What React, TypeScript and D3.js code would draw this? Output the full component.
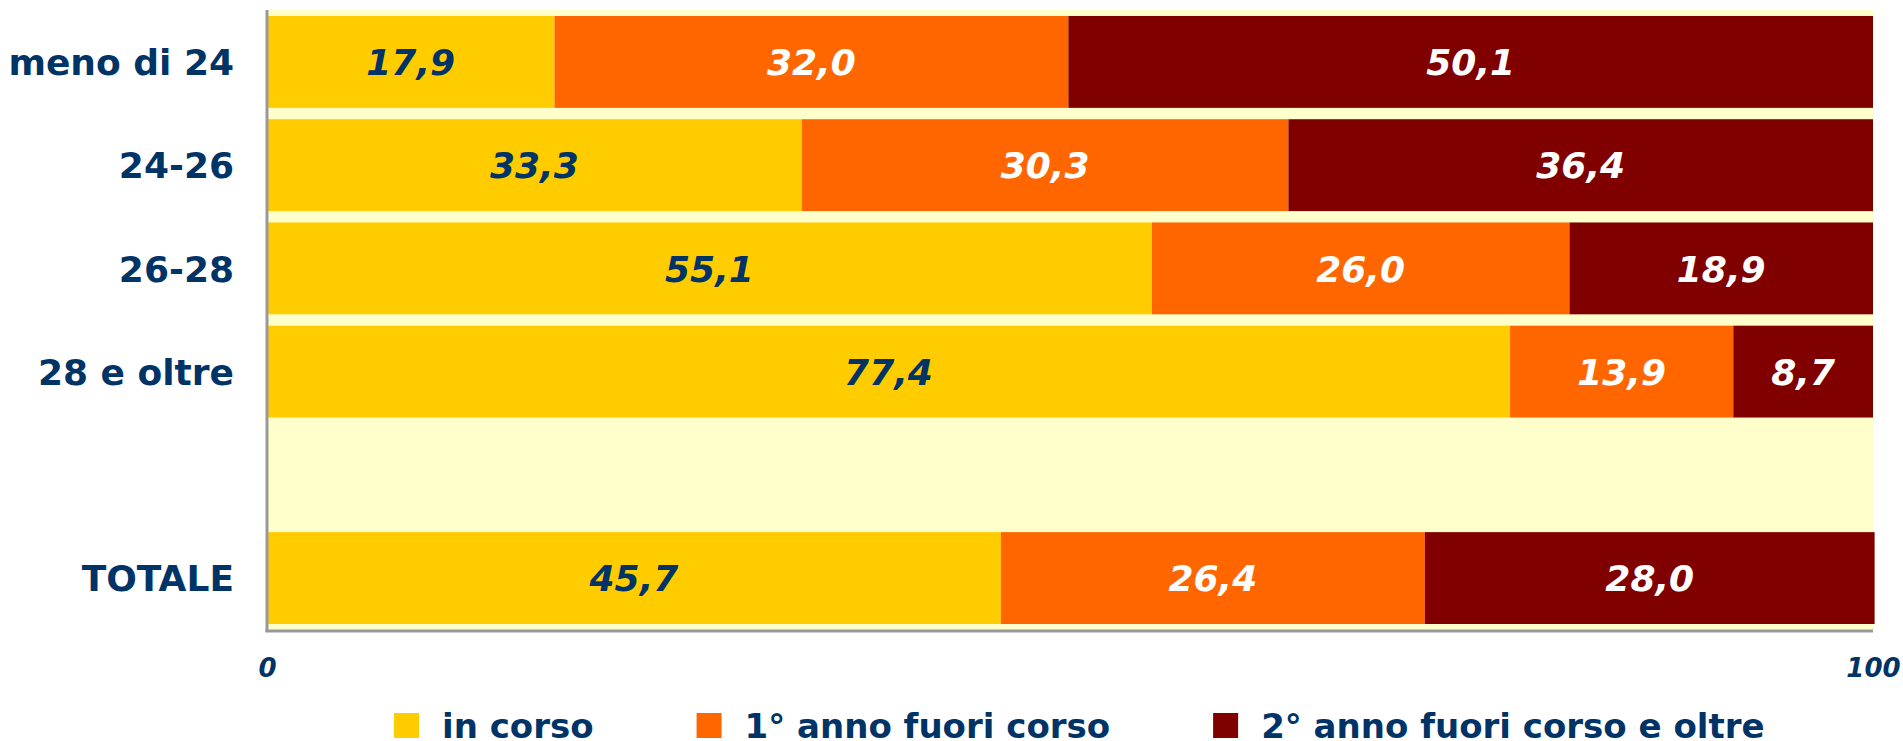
import React, { useRef, useEffect } from "react";
import * as d3 from "d3";

// categorie (la riga vuota separa il totale)
const categories = ["meno di 24", "24-26", "26-28", "28 e oltre", "", "TOTALE"];
const inCorso = [17.9, 33.3, 55.1, 77.4, null, 45.7];
const primoFuori = [32.0, 30.3, 26.0, 13.9, null, 26.4];
const secondoFuori = [50.1, 36.4, 18.9, 8.7, null, 28.0];
const seriesNames = ["in corso", "1° anno fuori corso", "2° anno fuori corso e oltre"];
const seriesColors = ["#FFCC00", "#FF6600", "#800000"];
const labelColors = ["#003366", "#FFFFFF", "#FFFFFF"];
const xTicks = [0, 100];

const FONT = "'DejaVu Sans', Verdana, sans-serif";
const NAVY = "#003366";

export default function App() {
  const svgRef = useRef<SVGSVGElement>(null);

  useEffect(() => {
    document.body.style.margin = "0";
    const width = 1903;
    const height = 741;
    const left = 267;
    const right = 1873;
    const top = 10;
    const bottom = 630;

    const svg = d3.select(svgRef.current);
    svg.selectAll("*").remove();

    const keys = ["a", "b", "c"];
    const rows = categories.map((c, i) => ({
      cat: c === "" ? "__vuoto" : c,
      label: c,
      empty: inCorso[i] == null,
      a: inCorso[i] ?? 0,
      b: primoFuori[i] ?? 0,
      c: secondoFuori[i] ?? 0,
    }));

    const x = d3.scaleLinear().domain([0, 100]).range([left, right]);
    const y = d3
      .scaleBand()
      .domain(rows.map((d) => d.cat))
      .range([top, bottom])
      .paddingInner(0.11)
      .paddingOuter(0.058);

    // sfondo area del grafico
    svg
      .append("rect")
      .attr("x", left)
      .attr("y", top)
      .attr("width", right - left)
      .attr("height", bottom - top)
      .attr("fill", "#FFFFCC");

    const stacked = d3.stack<any>().keys(keys)(rows.filter((r) => !r.empty));
    const fmt = (v: number) => d3.format(".1f")(v).replace(".", ",");

    stacked.forEach((layer, k) => {
      const g = svg.append("g");
      g.selectAll("rect")
        .data(layer)
        .enter()
        .append("rect")
        .attr("x", (d) => x(d[0]))
        .attr("y", (d) => y(d.data.cat)!)
        .attr("width", (d) => x(d[1]) - x(d[0]))
        .attr("height", y.bandwidth())
        .attr("fill", seriesColors[k]);

      g.selectAll("text")
        .data(layer)
        .enter()
        .append("text")
        .text((d) => fmt(d[1] - d[0]))
        .attr("x", (d) => (x(d[0]) + x(d[1])) / 2)
        .attr("y", (d) => y(d.data.cat)! + y.bandwidth() / 2)
        .attr("dy", "0.37em")
        .attr("text-anchor", "middle")
        .attr("font-family", FONT)
        .attr("font-size", 36)
        .attr("font-weight", "bold")
        .attr("font-style", "italic")
        .attr("fill", labelColors[k]);
    });

    // assi
    svg
      .append("line")
      .attr("x1", left)
      .attr("x2", left)
      .attr("y1", top)
      .attr("y2", bottom + 1.5)
      .attr("stroke", "#999999")
      .attr("stroke-width", 3);
    svg
      .append("line")
      .attr("x1", left - 1.5)
      .attr("x2", right)
      .attr("y1", bottom + 1)
      .attr("y2", bottom + 1)
      .attr("stroke", "#999999")
      .attr("stroke-width", 3);

    // etichette categorie
    svg
      .append("g")
      .selectAll("text")
      .data(rows.filter((r) => !r.empty))
      .enter()
      .append("text")
      .text((d) => d.label)
      .attr("x", left - 33)
      .attr("y", (d) => y(d.cat)! + y.bandwidth() / 2)
      .attr("dy", "0.37em")
      .attr("text-anchor", "end")
      .attr("font-family", FONT)
      .attr("font-size", 36)
      .attr("font-weight", "bold")
      .attr("fill", NAVY);

    // asse x
    const xAxis = svg
      .append("g")
      .attr("transform", `translate(0,${bottom + 1})`)
      .call(d3.axisBottom(x).tickValues(xTicks).tickSize(0).tickPadding(28));
    xAxis.select(".domain").remove();
    xAxis
      .selectAll("text")
      .attr("font-family", FONT)
      .attr("font-size", 26)
      .attr("font-weight", "bold")
      .attr("font-style", "italic")
      .attr("fill", NAVY);

    // legenda
    const legend = svg.append("g");
    let cx = 394;
    seriesNames.forEach((name, i) => {
      legend
        .append("rect")
        .attr("x", cx)
        .attr("y", 713)
        .attr("width", 25)
        .attr("height", 25)
        .attr("fill", seriesColors[i]);
      const t = legend
        .append("text")
        .text(name)
        .attr("x", cx + 48)
        .attr("y", 738)
        .attr("font-family", FONT)
        .attr("font-size", 34)
        .attr("font-weight", "bold")
        .attr("fill", NAVY);
      const w = (t.node() as SVGTextElement).getComputedTextLength();
      cx = cx + 48 + w + 103;
    });

    svg.attr("width", width).attr("height", height);
  }, []);

  return <svg ref={svgRef} style={{ display: "block" }} width={1903} height={741} />;
}
